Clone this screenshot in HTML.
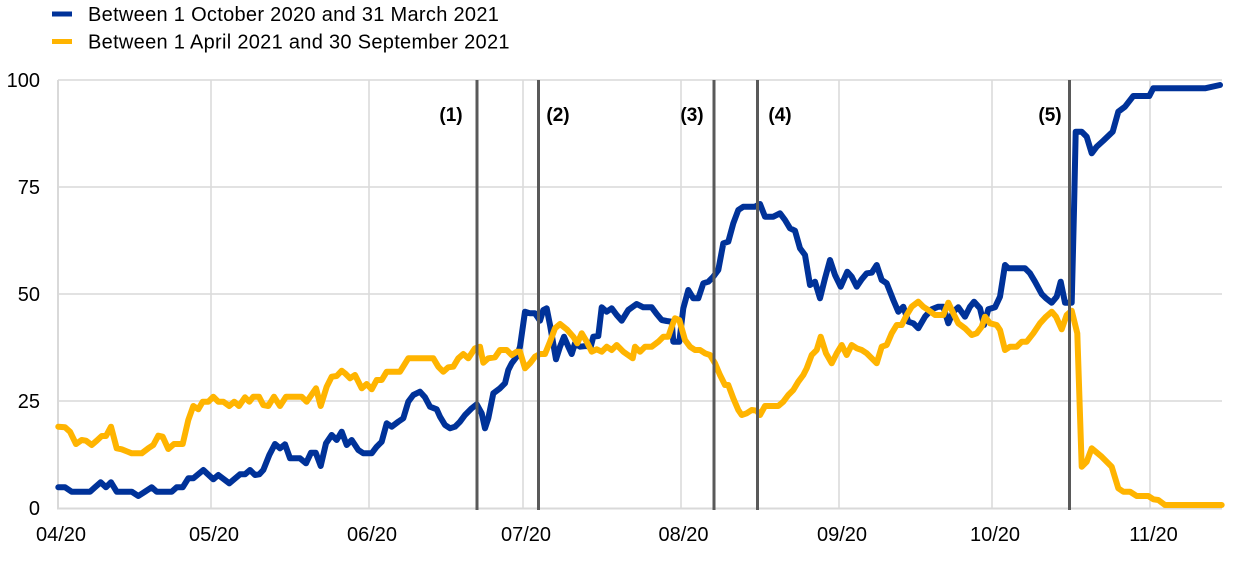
<!DOCTYPE html>
<html>
<head>
<meta charset="utf-8">
<style>
  html, body { margin: 0; padding: 0; background: #ffffff; }
  svg { display: block; font-family: "Liberation Sans", Arial, sans-serif; }
</style>
</head>
<body>
<svg width="1240" height="574" viewBox="0 0 1240 574" xmlns="http://www.w3.org/2000/svg">
  <rect width="1240" height="574" fill="#ffffff"/>

  <!-- Legend -->
  <rect x="52" y="11.5" width="20" height="5" fill="#003299"/>
  <text x="88" y="21" font-size="20" letter-spacing="0.3" fill="#000">Between 1 October 2020 and 31 March 2021</text>
  <rect x="52" y="39" width="20" height="5" fill="#FFB400"/>
  <text x="88" y="48.5" font-size="20" letter-spacing="0.3" fill="#000">Between 1 April 2021 and 30 September 2021</text>

  <!-- Gridlines -->
  <g stroke="#d9d9d9" stroke-width="1.5" fill="none">
    <line x1="58" y1="80" x2="1222" y2="80"/>
    <line x1="58" y1="187" x2="1222" y2="187"/>
    <line x1="58" y1="294" x2="1222" y2="294"/>
    <line x1="58" y1="401" x2="1222" y2="401"/>
    <line x1="211" y1="80" x2="211" y2="508"/>
    <line x1="369" y1="80" x2="369" y2="508"/>
    <line x1="523" y1="80" x2="523" y2="508"/>
    <line x1="681" y1="80" x2="681" y2="508"/>
    <line x1="839" y1="80" x2="839" y2="508"/>
    <line x1="992" y1="80" x2="992" y2="508"/>
    <line x1="1150" y1="80" x2="1150" y2="508"/>
  </g>
  <g stroke="#d9d9d9" stroke-width="2" fill="none">
    <line x1="58" y1="80" x2="58" y2="509"/>
    <line x1="57" y1="508.5" x2="1222" y2="508.5"/>
  </g>

  <!-- Y labels -->
  <g font-size="20" fill="#000" text-anchor="end">
    <text x="40" y="87">100</text>
    <text x="40" y="194">75</text>
    <text x="40" y="301">50</text>
    <text x="40" y="408">25</text>
    <text x="40" y="515">0</text>
  </g>

  <!-- X labels -->
  <g font-size="20" fill="#000" text-anchor="middle">
    <text x="61" y="541">04/20</text>
    <text x="214" y="541">05/20</text>
    <text x="372" y="541">06/20</text>
    <text x="526" y="541">07/20</text>
    <text x="683.5" y="541">08/20</text>
    <text x="842" y="541">09/20</text>
    <text x="995" y="541">10/20</text>
    <text x="1153.5" y="541">11/20</text>
  </g>

  <!-- Blue series -->
  <polyline fill="none" stroke="#003299" stroke-width="6" stroke-linejoin="round" stroke-linecap="round" points="
58.3,487.3 65,487.3 71.7,491.7 90,491.7 95,487.3 100.7,482.3 106,487.3 111,482.3 116.7,491.7 131.7,491.7 138.3,496 145,491.7 151.7,487.3 156.7,491.7 171.7,491.7 176.7,487.3 182.7,487.3 188.3,478.3 193.3,478.3 203.3,470 213.3,479.3 218.3,475 229.3,483.3 240,474.3 245,474.3 250,470 255,475 259.3,474.3 263.3,470 269.3,455 275,444 280,448.3 285,444.3 290,458.3 300,458.3 306,463.3 311,452.7 315.7,452.7 320.7,466 326,443.3 331.7,435 336.7,440 341.7,431.7 346.7,445 351.7,440 358.3,450 363.3,453.3 371.7,453.3 376.7,446.7 381.7,441.7 386.7,423.3 391.7,426.7 398.3,421.7 403.3,418.3 408.3,401.7 413.3,395 420,391.7 425,397.3 430,406.7 436.7,409.3 440,416.7 445,425 450,428.3 455,426.7 460,421.7 465,415 471.7,408.3 476.7,404.3 481.7,413.3 485,428.3 488.3,418.3 493.3,393.3 500,388.3 505,383.3 508.3,370 511.7,363.3 516.7,356.7 520,346.7 525,311.7 530,313.3 535,313.3 540,320.7 543.3,310 546.7,308.3 550,325 556,359.3 560,346.7 564,336.7 568.3,346.7 571.7,354 575,343.3 580,346.7 586,346 590.7,346.7 593.3,336.7 598.3,336 601.7,307.3 606.7,311.7 611.7,308.3 616.7,315 621.7,320.7 628.3,310 636.7,304 643.3,307.3 651.7,307.3 656.7,314 661.7,320 666.7,321 671.7,321.7 673.3,341.7 679.3,341.7 683.3,308.3 688.3,290 693.3,298.3 698.3,298.3 703.3,283.3 708.3,281.7 713.3,276.7 718.3,270 723.3,243.3 728.3,241.7 733.3,223.3 738.3,210 743.3,206.7 755,206.7 760,204 765,216.7 773.3,216.7 780,213.3 785,220 790,228.3 795,230.7 800,248.3 805,255 810,285 815,281.7 820,298.3 825,278.3 830,260 835,275 840.7,286.7 847.3,271.7 851.7,276.7 856.7,286.7 861.7,279.3 866.7,273.3 871.7,272.7 876.7,265 881.7,280 886.7,283.3 893.3,300 898.3,311.7 903.3,306.7 908.3,321.7 913.3,323.3 918.3,328.3 925,316.7 931.7,309.3 938.3,306.7 943.3,306.7 948.3,323.3 953.3,311.7 958.3,307.3 965,316.7 970,306.7 974,301.7 980,308.3 984,325 988.3,309.3 995,307.3 1000,296.7 1005,265 1008.3,268.3 1025,268.3 1030,273.3 1035,281.7 1041.7,294 1046,298.3 1051.7,302.7 1056.7,296.7 1060.7,281.7 1065,302.7 1071.7,302.7 1074,210 1075.7,131.7 1081.7,131.7 1086.7,136.7 1091.7,153.3 1096.7,146.7 1103.3,140.7 1112.7,131.7 1118.3,111.7 1125,106.7 1133.3,96 1149.3,96 1153.3,88.3 1205,88.3 1220,85"/>

  <!-- Yellow series -->
  <polyline fill="none" stroke="#FFB400" stroke-width="6" stroke-linejoin="round" stroke-linecap="round" points="
58.3,426.7 65,427.3 70,431.7 76,444 81.7,440 86,440.7 91.7,445 96.7,440.7 101.7,436 106,436 111,426.7 116.7,448.3 121.7,449.3 131.7,453.3 141.7,453.3 148.3,448.3 153.3,445 158.3,435.7 162.7,436.7 168.3,449 174,444 182.7,444 188.3,420 193.3,406 198.3,409.3 202.7,401.7 208.3,401.7 213.3,396.7 218.3,401.7 223.3,401.7 229.3,406 234.3,401.7 239,406 245,397.3 249.3,401.7 253.3,396.7 259,396.7 263.3,405 268.3,406 274,396.7 280,406 286,396.7 301.7,396.7 306.7,401.7 316,388.3 320.7,406 326.7,386.7 331.7,376.7 336.7,376 341.7,370.7 345,373.3 350,378.3 355,375 361.7,388.3 366.7,384 371.7,389.3 376.7,380 381.7,380 386.7,371.7 400,371.7 408.3,358.3 433.3,358.3 438.3,366.7 443.3,371.7 448.3,367.3 453.3,366.7 458.3,358.3 463.3,354 468.3,358.3 475,348.3 480,346.7 483.3,362.7 488.3,358.3 495,357.3 500,350 506.7,350 511.7,355 516.7,351.7 520,351.7 525,368.3 530,363.3 535,356.7 540,354 545,354 550,341.7 555,328.3 560,324 566.7,329.3 573.3,336.7 577.3,343.3 581.7,333.3 586.7,341.7 591.7,351.7 596.7,349.3 601.7,351.7 606.7,346.7 611.7,350 616.7,345 623.3,351.7 632.7,358.3 635,346.7 640,351.7 645,346.7 651.7,346.7 658.3,341.7 663.3,336.7 668.3,336.7 671.7,326.7 675,318.3 679.3,320 685,340 690,346.7 695,350 700,350 705,353.3 710,355 715,363.3 720,375 725,385 728.3,385 733.3,398.3 738.3,410 741.7,415 746.7,413.3 751.7,410 756.7,410.7 760,415 765,406 778.3,406 783.3,401.7 788.3,395 793.3,390 798.3,381.7 803.3,375 806.7,368.3 811.7,355 816.7,350 820.7,336.7 826,353.3 831.7,363.3 836.7,353.3 841.7,345 846.7,355 851.7,345 856.7,348.3 861.7,350 866.7,353.3 871.7,358.3 876.7,363.3 881.7,346.7 886.7,345 891.7,333.3 896.7,325 901.7,325 906.7,315 911.7,306.7 918.3,301.7 923.3,306.7 928.3,310 935,315 943.3,315 948.3,302.7 953.3,313.3 958.3,323.3 965,328.3 971.7,335 976.7,333.3 981.7,326.7 985,316.7 990,323.3 996.7,325 1000,330 1005,350 1010,346.7 1016.7,346.7 1021.7,341.7 1026.7,341.7 1033.3,333.3 1040,323.3 1046,316.7 1051.7,311.7 1056,316.7 1061.7,329.3 1066.7,315 1071.7,310.7 1077.3,333.3 1081.7,466.7 1086.7,461.7 1091.7,448.3 1101.7,456.7 1111.7,466.7 1118.3,488.3 1123.3,491.7 1130,491.7 1136.7,496 1148.3,496 1153.3,499.3 1158.3,500 1165,505 1221.7,505"/>

  <!-- Event lines -->
  <g stroke="#595959" stroke-width="3">
    <line x1="477" y1="80" x2="477" y2="510"/>
    <line x1="538.5" y1="80" x2="538.5" y2="510"/>
    <line x1="714" y1="80" x2="714" y2="510"/>
    <line x1="757.5" y1="80" x2="757.5" y2="510"/>
    <line x1="1069.5" y1="80" x2="1069.5" y2="510"/>
  </g>

  <!-- Event labels -->
  <g font-size="19" font-weight="bold" fill="#000" text-anchor="middle">
    <text x="451" y="121">(1)</text>
    <text x="558" y="121">(2)</text>
    <text x="692" y="121">(3)</text>
    <text x="780" y="121">(4)</text>
    <text x="1050" y="121">(5)</text>
  </g>
</svg>
</body>
</html>
